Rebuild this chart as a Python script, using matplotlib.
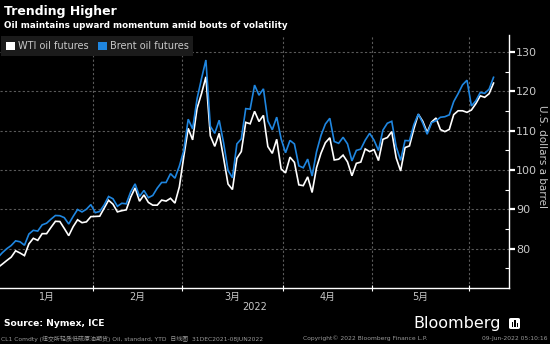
import matplotlib
matplotlib.use("Agg")
import matplotlib.pyplot as plt
from matplotlib.patches import Patch, FancyBboxPatch, Rectangle
import pandas as pd
import numpy as np

# trading days on the axis: weekdays, Good Friday dropped, Dec 31 in front
days = pd.bdate_range("2022-01-03", "2022-06-08")
days = days[days != pd.Timestamp("2022-04-15")]
days = pd.DatetimeIndex([pd.Timestamp("2021-12-31")]).append(days)

# WTI front-month settlements (US holidays carry the prior settle)
wti_dec = [75.21]
wti_jan = [76.08, 76.99, 77.85, 79.46, 78.90, 78.23, 81.22, 82.64, 82.12, 83.82, 83.82,
           85.43, 86.96, 86.90, 85.14, 83.31, 85.60, 87.35, 86.61, 86.82, 88.15]
wti_feb = [88.20, 88.26, 90.27, 92.31, 91.32, 89.36, 89.66, 89.88, 93.10, 95.46,
           92.07, 93.66, 91.76, 91.07, 91.07, 92.35, 92.10, 92.81, 91.59, 95.72]
wti_mar = [103.41, 110.60, 107.67, 115.68, 119.40, 123.70, 108.70, 106.02, 109.33, 103.01,
           96.44, 95.04, 102.98, 104.70, 112.12, 111.76, 114.93, 112.34, 113.90, 105.96,
           104.24, 107.82, 100.28]
wti_apr = [99.27, 103.28, 101.96, 96.23, 96.03, 98.26, 94.29, 100.60, 104.25, 106.95,
           108.21, 102.56, 102.75, 103.79, 102.07, 98.54, 101.70, 102.02, 105.36, 104.69]
wti_may = [105.17, 102.41, 107.81, 108.26, 109.77, 103.09, 99.76, 105.71, 106.13, 110.49,
           114.20, 112.40, 109.59, 112.21, 113.23, 110.29, 109.77, 110.33, 114.09, 115.07,
           115.07, 114.67]
wti_jun = [115.26, 116.87, 118.87, 118.50, 119.41, 122.11]

# Brent front-month settlements
brent_dec = [77.78]
brent_jan = [78.98, 80.00, 80.80, 81.99, 81.75, 80.87, 83.72, 84.67, 84.47, 86.06, 86.48,
             87.51, 88.44, 88.38, 87.89, 86.27, 88.20, 89.96, 89.34, 90.03, 91.21]
brent_feb = [89.16, 89.47, 91.11, 93.27, 92.69, 90.78, 91.55, 91.41, 94.44, 96.48,
             93.28, 94.81, 92.97, 93.54, 95.39, 96.84, 96.84, 99.08, 97.93, 100.99]
brent_mar = [104.97, 112.93, 110.46, 118.11, 123.21, 127.98, 111.14, 109.33, 112.67, 106.90,
             99.91, 98.02, 106.64, 107.93, 115.62, 115.48, 121.60, 119.03, 120.65, 112.48,
             110.23, 113.45, 107.91]
brent_apr = [104.39, 107.53, 106.64, 101.07, 100.58, 102.78, 98.48, 104.64, 108.78, 111.70,
             113.16, 107.25, 106.80, 108.33, 106.65, 102.32, 104.99, 105.32, 107.59, 109.34]
brent_may = [107.58, 104.97, 110.14, 111.90, 112.39, 105.94, 102.46, 107.51, 107.45, 111.55,
             114.24, 111.93, 109.11, 112.04, 112.55, 113.42, 113.56, 114.03, 117.40, 119.43,
             121.67, 122.84]
brent_jun = [116.29, 117.61, 119.72, 119.51, 120.57, 123.58]

wti = wti_dec + wti_jan + wti_feb + wti_mar + wti_apr + wti_may + wti_jun
brent = brent_dec + brent_jan + brent_feb + brent_mar + brent_apr + brent_may + brent_jun

month_labels = ["1月", "2月", "3月", "4月", "5月"]
y_ticks = [80, 90, 100, 110, 120, 130]

BG = "black"
GRID = "#5a5a5a"
TXT = "#c8c8c8"
BLUE = "#1f86e0"
CJK = ["DejaVu Sans", "Noto Sans CJK SC"]
NARROW = ["Liberation Sans Narrow", "DejaVu Sans"]

x = np.arange(len(days))
month = days.month.values
# boundaries between months, and middle of each month for labels
starts = [i for i in range(1, len(days)) if month[i] != month[i - 1]]
bounds = [s - 0.5 for s in starts[1:]]
centers = []
for m in [1, 2, 3, 4, 5]:
    idx = np.where(month == m)[0]
    centers.append((idx[0] + idx[-1]) / 2)

fig = plt.figure(figsize=(5.5, 3.44), dpi=100, facecolor=BG)
ax = fig.add_axes([0, 0.1628, 0.9255, 0.735])
ax.set_facecolor(BG)

ax.plot(x, wti, color="white", lw=1.2, solid_joinstyle="miter")
ax.plot(x, brent, color=BLUE, lw=1.2, solid_joinstyle="miter")

ax.set_xlim(0.47, 115.5)
ax.set_ylim(70, 134.3)

for s in ["top", "left"]:
    ax.spines[s].set_visible(False)
for s in ["bottom", "right"]:
    ax.spines[s].set_color("white")
    ax.spines[s].set_linewidth(1.0)

ax.yaxis.tick_right()
ax.set_yticks(y_ticks)
ax.set_yticklabels([str(v) for v in y_ticks], family=NARROW)
ax.set_yticks([75, 85, 95, 105, 115, 125], minor=True)
ax.tick_params(axis="y", which="major", direction="out", length=4, width=1.6,
               colors="white", labelcolor=TXT, labelsize=8, pad=1)
ax.tick_params(axis="y", which="minor", direction="in", length=3, width=0.8, colors="white")

ax.set_xticks(centers)
ax.set_xticklabels(month_labels, family=CJK)
ax.set_xticks(bounds, minor=True)
ax.tick_params(axis="x", which="major", length=0, labelcolor=TXT, labelsize=7, pad=3)
ax.tick_params(axis="x", which="minor", direction="inout", length=4, width=0.8, colors="white")

ax.grid(axis="y", which="major", color=GRID, ls=(0, (2, 2)), lw=0.8)
ax.grid(axis="x", which="minor", color=GRID, ls=(0, (2, 2)), lw=0.8)

ax.text(0.5, -0.075, "2022", transform=ax.transAxes, ha="center", va="center",
        color=TXT, fontsize=7)
ax.text(1.064, 0.52, "U.S. dollars a barrel", transform=ax.transAxes, rotation=-90,
        ha="center", va="center", color=TXT, fontsize=7.5)

handles = [Patch(facecolor="white", edgecolor="none", label="WTI oil futures"),
           Patch(facecolor=BLUE, edgecolor="none", label="Brent oil futures")]
leg = ax.legend(handles=handles, loc="upper left", bbox_to_anchor=(0, 1.0), ncol=2,
                fontsize=7, frameon=True, fancybox=False, handlelength=0.9,
                handleheight=0.9, handletextpad=0.3, columnspacing=1.0,
                borderpad=0.5, borderaxespad=0.1)
leg.get_frame().set_facecolor("#1b1b1b")
leg.get_frame().set_edgecolor("none")
leg.get_frame().set_alpha(1)
for t in leg.get_texts():
    t.set_color(TXT)

fig.text(4 / 550, 1 - 12 / 344, "Trending Higher", color="white", fontsize=9,
         fontweight="bold", va="center", ha="left")
fig.text(4 / 550, 1 - 25 / 344, "Oil maintains upward momentum amid bouts of volatility",
         color="white", fontsize=6.3, fontweight="bold", va="center", ha="left")

fig.text(4 / 550, 1 - 324 / 344, "Source: Nymex, ICE", color="white", fontsize=6.6,
         fontweight="bold", va="center", ha="left")
fig.text(501 / 550, 1 - 328 / 344, "Bloomberg", color="white", fontsize=11.5,
         va="baseline", ha="right")

# little terminal icon next to the wordmark
icon = FancyBboxPatch((509 / 550, 1 - 329 / 344), 11 / 550, 11 / 344,
                      boxstyle="round,pad=0,rounding_size=0.004",
                      transform=fig.transFigure, facecolor="white", edgecolor="none")
fig.patches.append(icon)
for bx, bh in [(511.5, 5), (514.2, 7), (516.9, 4)]:
    fig.patches.append(Rectangle((bx / 550, 1 - 327 / 344), 1.4 / 550, bh / 344,
                                 transform=fig.transFigure, facecolor="black",
                                 edgecolor="none"))

fig.text(1 / 550, 1 - 338.5 / 344,
         "CL1 Comdty (纽交所轻质低硫原油期货) Oil, standard, YTD  日线图  31DEC2021-08JUN2022",
         color="#9a9a9a", fontsize=4.3, va="center", ha="left", family=CJK)
fig.text(303 / 550, 1 - 338.5 / 344, "Copyright© 2022 Bloomberg Finance L.P.",
         color="#9a9a9a", fontsize=4.3, va="center", ha="left")
fig.text(548 / 550, 1 - 338.5 / 344, "09-Jun-2022 05:10:16",
         color="#9a9a9a", fontsize=4.3, va="center", ha="right")

fig.savefig("out.png", dpi=100, facecolor=BG)
